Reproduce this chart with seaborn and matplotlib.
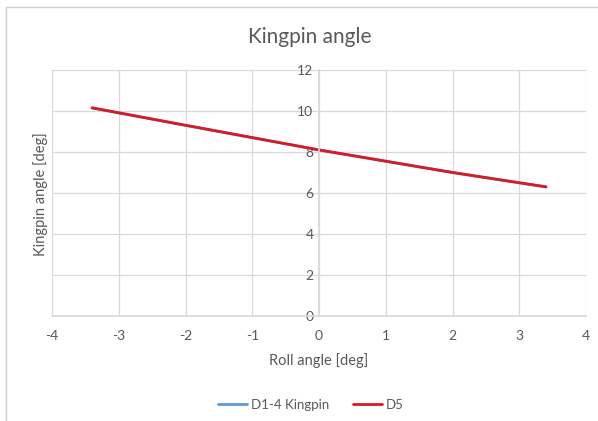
import matplotlib
matplotlib.use("Agg")
import matplotlib.pyplot as plt
import seaborn as sns
import pandas as pd
from matplotlib.patches import Rectangle

# Roll angle sweep and resulting kingpin angle (both series coincide)
roll_angle = [-3.4, -2.0, -1.0, 0.0, 1.0, 2.0, 3.4]
kingpin_d14 = [10.15, 9.3, 8.7, 8.1, 7.55, 7.0, 6.3]
kingpin_d5 = [10.15, 9.3, 8.7, 8.1, 7.55, 7.0, 6.3]
series_names = ["D1-4 Kingpin", "D5"]
x_ticks = [-4, -3, -2, -1, 0, 1, 2, 3, 4]
y_ticks = [0, 2, 4, 6, 8, 10, 12]

df = pd.DataFrame({
    "roll": roll_angle * 2,
    "kingpin": kingpin_d14 + kingpin_d5,
    "series": [series_names[0]] * len(roll_angle) + [series_names[1]] * len(roll_angle),
})

sns.set_theme(style="white")
plt.rcParams["font.family"] = ["Lato", "DejaVu Sans"]
text_color = "#595959"
grid_color = "#d9d9d9"

fig = plt.figure(figsize=(5.98, 4.21), dpi=100)
fig.patch.set_facecolor("white")
fig.patches.append(Rectangle((0.010, -0.01), 1.0, 0.993, transform=fig.transFigure,
                             fill=False, edgecolor="#d0d0d0", linewidth=1.0))

ax = fig.add_axes([0.087, 0.249, 0.893, 0.585])
sns.lineplot(data=df, x="roll", y="kingpin", hue="series",
             palette={"D1-4 Kingpin": "#5b9bd5", "D5": "#d81a24"},
             linewidth=2.0, ax=ax, legend=False)

ax.set_xlim(-4, 4)
ax.set_ylim(0, 12)
ax.set_xticks(x_ticks)
ax.set_yticks(y_ticks)
ax.set_xticklabels([str(v) for v in x_ticks])
ax.set_yticklabels([str(v) for v in y_ticks])
ax.grid(True, color=grid_color, linewidth=0.9)
ax.set_axisbelow(True)

for side in ["top", "right"]:
    ax.spines[side].set_visible(False)
ax.spines["left"].set_position(("data", 0))
ax.spines["left"].set_color(grid_color)
ax.spines["bottom"].set_color(grid_color)
ax.tick_params(axis="both", length=0, labelsize=10, colors=text_color)
ax.tick_params(axis="x", pad=10)
ax.tick_params(axis="y", pad=4)

ax.set_xlabel("Roll angle [deg]", fontsize=10.5, color=text_color, labelpad=8)
ax.set_ylabel("")
fig.text(0.067, 0.54, "Kingpin angle [deg]", rotation=90, fontsize=10.5,
         color=text_color, ha="center", va="center")
fig.text(0.518, 0.912, "Kingpin angle", fontsize=15, color=text_color,
         ha="center", va="center")

# legend
handles = [plt.Line2D([], [], color="#5b9bd5", linewidth=2),
           plt.Line2D([], [], color="#d81a24", linewidth=2)]
fig.legend(handles, series_names, loc="center", bbox_to_anchor=(0.52, 0.038),
           ncol=2, frameon=False, fontsize=9.5, labelcolor=text_color,
           handlelength=2.2, handletextpad=0.3, columnspacing=1.8)

fig.savefig("out.png", dpi=100)
